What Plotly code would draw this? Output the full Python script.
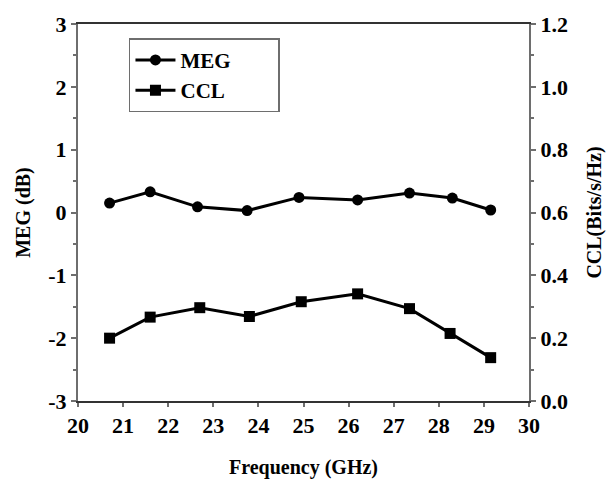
import plotly.graph_objects as go

freq_meg = [20.7, 21.6, 22.65, 23.75, 24.9, 26.2, 27.35, 28.3, 29.15]
meg = [0.15, 0.33, 0.09, 0.03, 0.24, 0.2, 0.31, 0.23, 0.04]
freq_ccl = [20.7, 21.6, 22.7, 23.8, 24.95, 26.2, 27.35, 28.25, 29.15]
ccl = [0.20, 0.267, 0.297, 0.269, 0.316, 0.341, 0.294, 0.215, 0.138]

x_ticks = list(range(20, 31))
y_ticks = [-3, -2, -1, 0, 1, 2, 3]
y2_ticks = [0.0, 0.2, 0.4, 0.6, 0.8, 1.0, 1.2]

FONT = "Liberation Serif"
PAD = "\u00a0" * 8
fig = go.Figure()
fig.add_trace(go.Scatter(x=freq_meg, y=meg, name="<b>MEG</b>" + PAD, mode="lines+markers",
                         line=dict(color="black", width=3),
                         marker=dict(symbol="circle", size=11, color="black")))
fig.add_trace(go.Scatter(x=freq_ccl, y=ccl, name="<b>CCL</b>" + PAD, mode="lines+markers", yaxis="y2",
                         line=dict(color="black", width=3),
                         marker=dict(symbol="square", size=11, color="black")))

tickfont = dict(family=FONT, size=22, color="black", weight="bold")
titlefont = dict(family=FONT, size=20, color="black")
axcol = "#6e6e6e"

fig.update_layout(
    width=614, height=487,
    margin=dict(l=78, r=84, t=20, b=77),
    plot_bgcolor="white", paper_bgcolor="white",
    showlegend=True,
    legend=dict(x=0.113, y=0.962, xanchor="left", yanchor="top",
                bordercolor=axcol, borderwidth=1.5, bgcolor="white",
                font=dict(family=FONT, size=21, color="black"),
                itemwidth=40, tracegroupgap=0),
    xaxis=dict(range=[20, 30], tickvals=x_ticks, ticktext=[f"<b>{v}</b>" for v in x_ticks],
               showgrid=False, zeroline=False,
               showline=True, linecolor="#333", linewidth=2, mirror=True,
               ticks="outside", ticklen=4, tickcolor=axcol, tickwidth=1.5,
               tickfont=tickfont,
               title=dict(text="<b>Frequency (GHz)</b>", font=titlefont, standoff=23)),
    yaxis=dict(range=[-3, 3], tickvals=y_ticks, ticktext=[f"<b>{v}</b>" for v in y_ticks],
               showgrid=False, zeroline=False,
               showline=True, linecolor=axcol, linewidth=2,
               ticks="outside", ticklen=5, tickcolor=axcol, tickwidth=1.5,
               minor=dict(ticks="outside", tickvals=[-2.5, -1.5, -0.5, 0.5, 1.5, 2.5],
                          ticklen=3, tickcolor=axcol),
               tickfont=tickfont,
               title=dict(text="<b>MEG (dB)</b>", font=titlefont, standoff=12)),
    yaxis2=dict(range=[0, 1.2], tickvals=y2_ticks, ticktext=[f"<b>{v:.1f}</b>" for v in y2_ticks],
                overlaying="y", side="right",
                showgrid=False, zeroline=False,
                showline=True, linecolor=axcol, linewidth=2,
                ticks="outside", ticklen=5, tickcolor=axcol, tickwidth=1.5,
                minor=dict(ticks="outside", tickvals=[0.1, 0.3, 0.5, 0.7, 0.9, 1.1],
                           ticklen=3, tickcolor=axcol),
                tickfont=tickfont,
                title=dict(text="<b>CCL(Bits/s/Hz)</b>", font=titlefont, standoff=20)),
)
fig.write_html("out.html")
